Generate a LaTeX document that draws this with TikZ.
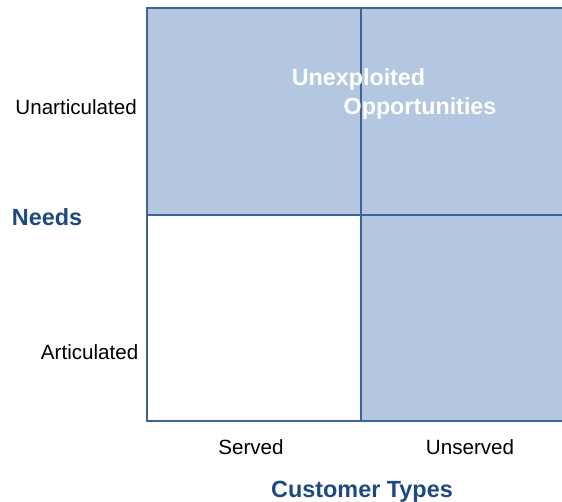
\documentclass[tikz,border=0pt]{standalone}
\usepackage{fontspec}
\setmainfont{Liberation Sans}
\definecolor{cellfill}{HTML}{B3C7E1}
\definecolor{gridline}{HTML}{3E6396}
\definecolor{titleblue}{HTML}{1F4A80}
\tikzset{
  cell/.style={draw=gridline, line width=2.4pt, fill=cellfill},
  blankcell/.style={draw=gridline, line width=2.4pt, fill=white},
  lbl/.style={inner sep=0pt, font=\fontsize{20.6}{24}\selectfont, text=black},
  ttl/.style={inner sep=0pt, font=\fontsize{23.4}{27}\selectfont\bfseries, text=titleblue},
  inner/.style={inner sep=0pt, font=\fontsize{23.3}{27}\selectfont\bfseries, text=white}
}
\begin{document}
\begin{tikzpicture}[x=1pt,y=-1pt]
\useasboundingbox (0,0) rectangle (562,501);
\begin{scope}
\clip (0,0) rectangle (562,501);
\draw[cell] (147,8) rectangle (361,215);
\draw[cell] (361,8) rectangle (580,215);
\draw[blankcell] (147,215) rectangle (361,421);
\draw[cell] (361,215) rectangle (580,421);
\end{scope}
\node[inner, anchor=base] (unexp) at (358.5,85) {Unexploited};
\node[inner, anchor=base] (opp) at (420,114) {Opportunities};
\node[lbl, anchor=base east] (unart) at (137,114) {Unarticulated};
\node[lbl, anchor=base east] (art) at (138.5,359) {Articulated};
\node[ttl, anchor=base] (needs) at (47,225) {Needs};
\node[lbl, anchor=base] (served) at (251,454) {Served};
\node[lbl, anchor=base] (unserved) at (470,454) {Unserved};
\node[ttl, anchor=base] (ctypes) at (362,497) {Customer Types};
\end{tikzpicture}
\end{document}
